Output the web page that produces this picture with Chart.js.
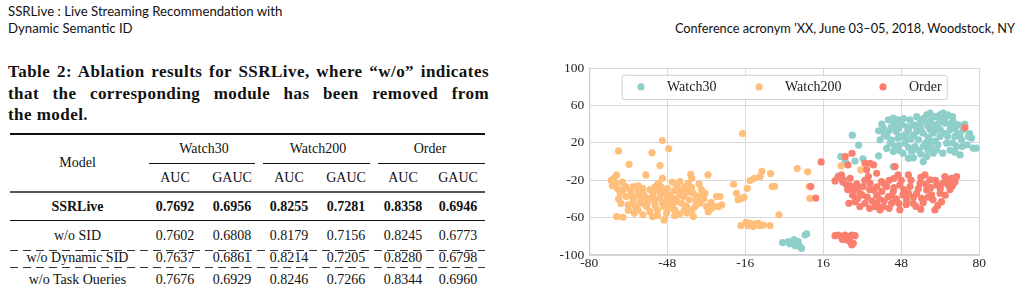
<!DOCTYPE html>
<html>
<head>
<meta charset="utf-8">
<script src="https://cdn.jsdelivr.net/npm/chart.js@4.4.1/dist/chart.umd.min.js"></script>
<style>
  body { margin: 0; background: #fff; width: 1022px; height: 284px; overflow: hidden; position: relative; color: #111; }
  .hdr { position: absolute; font-family: Lato, "Open Sans", sans-serif; line-height: 17px; }
  #caption { position: absolute; left: 8px; top: 61px; width: 481px; font-family: "Liberation Serif", serif; font-weight: bold; font-size: 17px; letter-spacing: 0.45px; line-height: 21.5px; }
  #caption span { display: block; text-align: justify; text-align-last: justify; }
  #caption span.last { text-align-last: left; }
  #tbl { position: absolute; left: 8px; top: 134px; width: 477px; border-collapse: collapse; font-family: "Liberation Serif", serif; font-size: 14px; }
  #tbl td { padding: 0; text-align: center; white-space: nowrap; }
  .rule { position: absolute; background: #111; }
  .dash { position: absolute; height: 1px; background: repeating-linear-gradient(to right, #333 0 8px, transparent 8px 13px); }
  #chartBox { position: absolute; left: 540px; top: 55px; }
</style>
</head>
<body>
<div class="hdr" style="left:8px;top:3px;font-size:13.2px;">SSRLive : Live Streaming Recommendation with<br>Dynamic Semantic ID</div>
<div class="hdr" style="right:7px;top:20px;font-size:12.75px;">Conference acronym ’XX, June 03–05, 2018, Woodstock, NY</div>

<div id="caption"><span>Table 2: Ablation results for SSRLive, where “w/o” indicates</span><span>that the corresponding module has been removed from</span><span class="last">the model.</span></div>

<table id="tbl"></table>
<div class="rule" style="left:10px;top:133px;width:475px;height:1.5px;"></div>
<div class="rule" style="left:149px;top:163px;width:106px;height:1px;"></div>
<div class="rule" style="left:263px;top:163px;width:107px;height:1px;"></div>
<div class="rule" style="left:378px;top:163px;width:107px;height:1px;"></div>
<div class="rule" style="left:10px;top:191px;width:475px;height:2px;background:#555;"></div>
<div class="rule" style="left:10px;top:220px;width:475px;height:1px;"></div>
<div class="dash" style="left:10px;top:250px;width:475px;"></div>
<div class="dash" style="left:10px;top:267px;width:475px;"></div>

<div id="chartBox"><canvas id="scatter" width="450" height="227"></canvas></div>

<script>
// ---------- table data ----------
const tasks = ["Watch30", "Watch200", "Order"];
const metrics = ["AUC", "GAUC"];
const models = ["SSRLive", "w/o SID", "w/o Dynamic SID", "w/o Task Queries"];
const ssrLive = ["0.7692", "0.6956", "0.8255", "0.7281", "0.8358", "0.6946"];
const woSid = ["0.7602", "0.6808", "0.8179", "0.7156", "0.8245", "0.6773"];
const woDynamicSid = ["0.7637", "0.6861", "0.8214", "0.7205", "0.8280", "0.6798"];
const woTaskQueries = ["0.7676", "0.6929", "0.8246", "0.7266", "0.8344", "0.6960"];

// ---------- scatter data ----------
const seriesNames = ["Watch30", "Watch200", "Order"];
const seriesColors = ["#8ECFC9", "#FFBE7A", "#FA7F6F"];
const xTicks = [-80, -48, -16, 16, 48, 80];
const yTicks = [-100, -60, -20, 20, 60, 100];

const watch30Points = [
  [-0.7,-86.8],[1.6,-85.7],[3.7,-85.7],[5,-87.5],[5.7,-85.7],[6.4,-91],[4.5,-90],[2.3,-88.2],[8.5,-78.6],[9.2,-77.5],[7.1,-92.9],[4,-83.6],[3,-87],
  [27.9,28.2],[30.5,17.5],[32.3,2.9],[23.2,5.4],[25,0],[38.7,6.1],[57,0],[22.2,-15.4],[44.7,-5.4],[29,0.5],
  [38.7,32.9],[39.3,23.2],[42.1,26.8],[42.7,44.6],[44.7,46.4],[46.8,44.6],[44,37.5],[43.4,19.6],[45.4,16.1],[44.7,10.7],
  [48.1,26.8],[49.5,19.6],[50.2,37.5],[51.6,44.6],[52.9,39.3],[54.3,48.2],[55.7,42.9],[50.9,3.6],[52.2,10.7],[53.6,16.1],
  [55,23.2],[54.3,32.1],[57,30.4],[58.4,50],[59.8,51.8],[59.1,37.5],[60.4,21.4],[61.1,8.9],[62.5,12.5],[63.9,26.8],
  [63.9,50],[65.2,51.8],[65.9,41.1],[66.6,19.6],[68,33.9],[69.3,42.9],[70,26.8],[70.7,16.1],[72.1,7.1],[72.7,23.2],
  [73.4,33.9],[75.5,26.8],[76.8,25],[77.5,14.3],[78.9,14.3],[71.4,39.3],[62.5,33.9],[57,16.1],[58.4,5.4],[61.1,30.4],
  [48.7,8.9],[46.7,25],[40.6,35.7],[41,29],[46,32],[48,40],[50,30],[52,24],[56,36],[57,46],[60,44],[61,39],[64,34],
  [66,46],[67,27],[68,12],[69,20],[71,30],[74,40],[65,9],[63,18],[59,26],[56,8],[53,4],[47,17],[45,40],[49,46],
  [62,48],[68,40],[75,18],[70,10],[58,20],[51,15],
  [40,40],[43,33],[47,36],[51,34],[53,28],[55,12],[59,12],[60,16],[63,40],[66,30],[67,50],[70,36],[72,28],[73,16],
  [76,30],[44,23],[42,14],[50,24],[58,42],[64,44],[60,34],[54,38],[47,12],[62,22],[69,48]
];

const watch200Points = [
  [-50,22.5],[-47.4,13.6],[-68,11.4],[-54.3,9.3],[-63.7,-3],[-51,-4.3],[-56.8,-14.3],[-31.3,-14.3],[-38.4,-13.6],
  [-69.9,-17.9],[-68.8,-14.3],[-69.3,-23.2],[-68.5,-28.6],[-67.4,-32.9],[-68,-40],[-68.8,-58.9],[-66.2,-59.6],[-65.1,-26.8],
  [-65,-37.5],[-64,-46.4],[-61.5,-55.4],[-62,-26.8],[-59.9,-26],[-60.2,-35.7],[-59.2,-44.6],[-57.8,-33.9],[-56.5,-48.2],
  [-55.1,-53.6],[-54,-58.9],[-53,-41],[-52.4,-30.4],[-51.7,-23.2],[-50.7,-26.8],[-49.6,-33.9],[-49.4,-48.2],[-49.4,-62.5],
  [-48.3,-55.4],[-46.9,-44.6],[-45.5,-39.3],[-44.9,-51.8],[-44.2,-25],[-42.8,-21.4],[-42.1,-30.4],[-41.4,-37.5],[-40.1,-48.2],
  [-39.4,-23.2],[-38,-17.9],[-37.3,-33.9],[-37.3,-58.9],[-36.6,-48.2],[-36,-41],[-34.6,-44.6],[-32.5,-33.9],[-31.9,-48.2],
  [-31.2,-53.6],[-29.8,-50],[-27.8,-37.5],[-26.4,-37.5],[-25.7,-46.4],[-27,-48.2],[-29.1,-48.2],
  [-71,-20],[-70.5,-26],[-66.5,-22],[-67,-45],[-63,-31],[-62,-40],[-61,-49],[-58,-29],[-57,-38],[-56,-43],[-55,-30],
  [-54,-36],[-53,-47],[-52,-52],[-51,-38],[-50,-44],[-48,-29],[-47,-36],[-47,-50],[-46,-22],[-45,-31],[-44,-43],[-43,-56],
  [-42,-45],[-41,-27],[-40,-33],[-39,-41],[-38,-52],[-38,-28],[-36,-37],[-35,-24],[-34,-30],[-33,-40],[-60,-52],[-58,-57],
  [-64,-52],[-45,-58],[-50,-18],
  [-66,-30],[-63,-36],[-60,-30],[-57,-46],[-55,-40],[-53,-27],[-51,-32],[-48,-40],[-46,-48],[-43,-36],[-41,-52],[-39,-30],
  [-36,-44],[-34,-36],[-30,-44],[-62,-45],[-59,-40],[-52,-58],[-44,-30],[-40,-55],
  [-17.1,30],[-9.2,-10.4],[-5.6,-12.9],[-10,-16],[-14,-20.4],[-12.3,-17.9],[-20.8,-24.3],[-5,-26.8],[-15.2,-28.6],
  [-19.6,-33.9],[-17.5,-39.3],[-18.9,-41],[-16.5,-38.2],[-2.2,-57],[-17.8,-68.6],[-15.7,-65],[-14.1,-66],[-12.7,-69.6],
  [-10.7,-66],[-10,-68.6],[-8.6,-67.9],[-5.9,-68.6],[-14.8,-68.6],[-12,-67],[-4,-26.5],
  [5.3,-7.5],[9.6,-11],[10.2,-26.8],[10.5,-39.3],[23.3,-4.7],[31.3,-9]
];

const orderPoints = [
  [15.1,-0.4],[10.9,-26.8],[12.9,-39],[74.1,36.4],[25,5.4],[27.8,8.9],[26.1,-3.6],[45.4,-5.4],[33.1,-1.8],[35.2,-1.8],
  [33.8,-8.9],[36.6,-3.6],
  [23.5,-14.3],[24.2,-19.6],[20.8,-20.7],[25.6,-25],[27,-17.9],[28.3,-30.4],[29.7,-23.9],[31,-33.9],[26.5,-44.6],[29,-42.9],
  [31,-48.2],[33.1,-44.6],[32.4,-26.8],[34.5,-16.1],[35.2,-23.2],[36.6,-30.4],[37.9,-35.7],[37.2,-48.2],[39.3,-51.8],
  [40.6,-48.2],[39.9,-21.4],[42,-26.8],[42.7,-37.5],[44,-44.6],[44.7,-32.1],[46.7,-14.3],[47.4,-25],[48.7,-35.7],[47.4,-51.8],
  [50.2,-41.1],[50.9,-14.3],[51.6,-26.8],[52.9,-44.6],[54.3,-33.9],[55.7,-23.2],[56.3,-39.3],[57.7,-14.3],[58.4,-30.4],
  [59.8,-19.6],[60.4,-35.7],[61.8,-51.8],[62.5,-25],[63.9,-33.9],[64.5,-42.9],[65.9,-16.1],[67.3,-25],[68.6,-17.9],[70,-17.9],
  [70.7,-16.1],[37.9,-12.5],
  [22,-17],[26,-30],[28,-36],[30,-28],[33,-20],[34,-38],[36,-42],[38,-27],[40,-32],[41,-42],[43,-20],[45,-28],[46,-40],
  [49,-30],[50,-46],[52,-20],[53,-38],[55,-29],[57,-44],[58,-24],[60,-28],[61,-41],[62,-20],[64,-29],[66,-36],[67,-21],
  [69,-26],[56,-51],[43,-50],[35,-50],
  [24,-22],[27,-26],[30,-40],[32,-36],[35,-30],[39,-40],[41,-24],[44,-37],[47,-45],[48,-20],[51,-34],[54,-48],[56,-17],
  [59,-38],[63,-47],[65,-23],[68,-30],[70,-22],[45,-18],[38,-45],
  [20.8,-79.3],[22.2,-78.6],[23.6,-80.4],[24.9,-78.6],[26.3,-80.4],[27.7,-78.6],[29,-79.3],[25.6,-83.9],[27,-85.7],
  [28.3,-87.5],[27.7,-89.3],[23.8,-83.2]
];

/* ==================================== */
/*                Table                 */
/* ==================================== */
const tbl = document.querySelector("#tbl");
const colW = [139, 56, 58, 56, 58, 56, 54];
let html = "<colgroup>" + colW.map(w => `<col style="width:${w}px">`).join("") + "</colgroup>";
html += `<tr style="height:29px"><td rowspan="2">Model</td>` + tasks.map(t => `<td colspan="2">${t}</td>`).join("") + "</tr>";
html += `<tr style="height:29px">` + tasks.map(() => metrics.map(m => `<td>${m}</td>`).join("")).join("") + "</tr>";
const rows = [ssrLive, woSid, woDynamicSid, woTaskQueries];
const rowH = [29, 29, 15, 28];
rows.forEach((vals, i) => {
  const b = i === 0 ? "font-weight:bold;" : "";
  html += `<tr style="height:${rowH[i]}px;${b}"><td>${models[i]}</td>` + vals.map(v => `<td>${v}</td>`).join("") + "</tr>";
});
tbl.innerHTML = html;

/* ==================================== */
/*                Chart                 */
/* ==================================== */
const toXY = arr => arr.map(p => ({ x: p[0], y: p[1] }));
const allPoints = [watch30Points, watch200Points, orderPoints];

const insideLegend = {
  id: "insideLegend",
  afterDraw(chart) {
    const ctx = chart.ctx;
    const a = chart.chartArea;
    const bx = a.left + 32.4, by = a.top + 6.7, bw = 325, bh = 24.3;
    ctx.save();
    ctx.fillStyle = "rgba(255,255,255,0.85)";
    ctx.strokeStyle = "#d0d0d0";
    ctx.lineWidth = 1;
    ctx.beginPath();
    ctx.roundRect(bx + 0.5, by + 0.5, bw, bh, 2);
    ctx.fill();
    ctx.stroke();
    const markX = [19.3, 137.3, 261.3];
    const textX = [45.3, 163.3, 287.3];
    ctx.font = "14px 'Liberation Serif', serif";
    ctx.textBaseline = "middle";
    chart.data.datasets.forEach((ds, i) => {
      ctx.fillStyle = ds.backgroundColor;
      ctx.beginPath();
      ctx.arc(bx + markX[i], by + bh / 2, 3.6, 0, Math.PI * 2);
      ctx.fill();
      ctx.fillStyle = "#222";
      ctx.fillText(ds.label, bx + textX[i], by + bh / 2 + 0.5);
    });
    ctx.restore();
  }
};

const scatterChart = new Chart(document.querySelector("#scatter"), {
  type: "scatter",
  data: {
    datasets: seriesNames.map((name, i) => ({
      label: name,
      data: toXY(allPoints[i]),
      backgroundColor: seriesColors[i],
      borderWidth: 0,
      pointRadius: 3.6,
      order: 3 - i,
    })),
  },
  options: {
    responsive: false,
    animation: false,
    layout: { padding: { top: 3.6, right: 10.7, left: 0, bottom: 0 } },
    plugins: { legend: { display: false }, tooltip: { enabled: false } },
    scales: {
      x: {
        type: "linear",
        min: -80,
        max: 80,
        afterBuildTicks: s => { s.ticks = xTicks.map(v => ({ value: v })); },
        afterFit: s => { s.height = 27; },
        grid: { color: "#d9d9d9", lineWidth: 1, drawTicks: false },
        border: { color: "#cfcfcf", width: 1.3 },
        ticks: { padding: 0, color: "#262626", font: { family: "'Liberation Serif', serif", size: 13.5 } },
      },
      y: {
        type: "linear",
        min: -100,
        max: 100,
        afterBuildTicks: s => { s.ticks = yTicks.map(v => ({ value: v })); },
        afterFit: s => { s.width = 49.3; },
        grid: { color: "#d9d9d9", lineWidth: 1, drawTicks: false },
        border: { color: "#cfcfcf", width: 1.3 },
        ticks: { padding: 5, color: "#262626", font: { family: "'Liberation Serif', serif", size: 13.5 } },
      },
    },
  },
  plugins: [insideLegend],
});
</script>
</body>
</html>
